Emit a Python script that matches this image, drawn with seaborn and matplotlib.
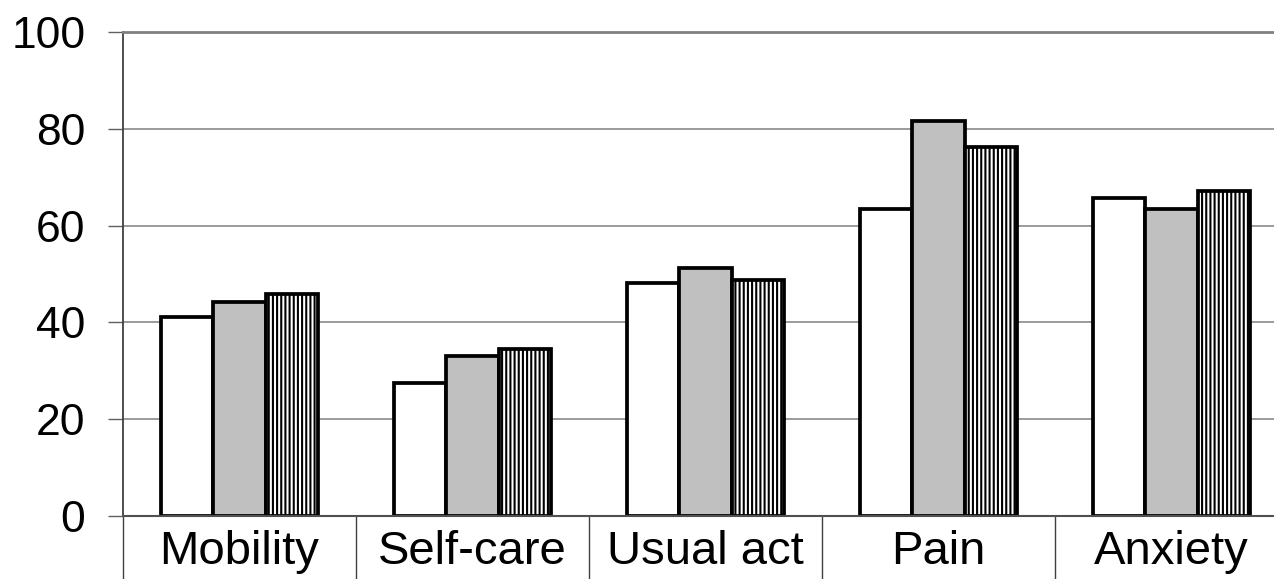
import matplotlib
matplotlib.use("Agg")
import matplotlib.pyplot as plt
import pandas as pd
import seaborn as sns

# Data
dimensions = ['Mobility', 'Self-care', 'Usual act', 'Pain', 'Anxiety']
series_names = ['Series 1', 'Series 2', 'Series 3']
series_1 = [41.2, 27.5, 48.2, 63.4, 65.6]
series_2 = [44.3, 33.0, 51.2, 81.6, 63.4]
series_3 = [45.8, 34.6, 48.8, 76.3, 67.2]
y_ticks = [0, 20, 40, 60, 80, 100]

df = pd.DataFrame({
    'dimension': dimensions * 3,
    'group': [series_names[0]] * 5 + [series_names[1]] * 5 + [series_names[2]] * 5,
    'value': series_1 + series_2 + series_3,
})

sns.set_style('white')
plt.rcParams['font.family'] = ['Liberation Sans', 'DejaVu Sans']
plt.rcParams['hatch.linewidth'] = 1.5
plt.rcParams['hatch.color'] = 'black'

fig = plt.figure(figsize=(12.74, 5.79), dpi=100)
ax = fig.add_axes([123 / 1274, 63 / 579, 1165 / 1274, 484 / 579])

sns.barplot(data=df, x='dimension', y='value', hue='group', order=dimensions,
            hue_order=series_names, palette=['white', '#c0c0c0', 'white'],
            saturation=1, width=0.67, edgecolor='black', linewidth=2.7,
            legend=False, ax=ax)

# vertical hatching on the third series
for bar in ax.containers[2]:
    bar.set_hatch('||||')

ax.set_xlim(-0.5, 4.5)
ax.set_ylim(0, 100)
ax.set_yticks(y_ticks)
ax.set_xticks(range(len(dimensions)))
ax.set_xticklabels(dimensions)
ax.set_xticks([i - 0.5 for i in range(len(dimensions) + 1)], minor=True)
ax.set_xlabel('')
ax.set_ylabel('')

ax.yaxis.grid(True, color='#808080', linewidth=1.1)
ax.set_axisbelow(True)

ax.tick_params(axis='x', which='major', length=0, pad=10, labelsize=34,
               labelcolor='black')
ax.tick_params(axis='x', which='minor', length=50, width=1.0, color='#404040',
               direction='out', bottom=True)
ax.tick_params(axis='y', which='major', length=11, width=1.0, color='#606060',
               direction='out', left=True, pad=16, labelsize=32,
               labelcolor='black')

ax.spines['left'].set_color('#404040')
ax.spines['left'].set_linewidth(1.3)
ax.spines['bottom'].set_color('#505050')
ax.spines['bottom'].set_linewidth(1.5)
ax.spines['top'].set_color('#808080')
ax.spines['top'].set_linewidth(2)
ax.spines['right'].set_visible(False)

fig.savefig('out.png', dpi=100)
